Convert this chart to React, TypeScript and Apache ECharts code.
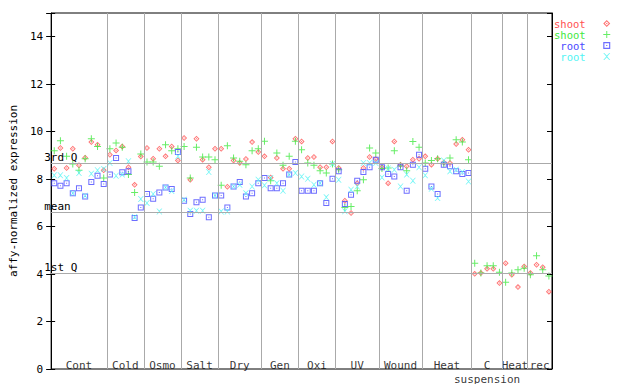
import React, { useEffect, useRef } from "react";
import * as echarts from "echarts";

const groupNames = ["Cont", "Cold", "Osmo", "Salt", "Dry", "Gen", "Oxi", "UV", "Wound", "Heat", "C\nsuspension", "Heat", "rec"];
const groupSizes = [9, 6, 6, 6, 7, 6, 6, 7, 7, 8, 5, 4, 4];

const shootRed = [
  8.44, 9.31, 8.47, 9.28, 8.58, 8.9, 9.56, 9.45, 8.37,
  9.03, 9.21, 9.38, 8.5, 7.76, 8.95,
  9.31, 8.86, 9.28, 8.96, 9.38, 8.79,
  9.73, 7.97, 9.7, 8.82, 8.5, 9.28,
  9.28, 7.68, 8.78, 8.68, 8.85, 9.56, 9.14,
  8.96, 8.07, 8.89, 8.44, 8.44, 9.7,
  9.59, 8.89, 8.93, 8.5, 8.5, 9.59,
  8.47, 7.09, 6.57, 7.83, 8.47, 8.93, 8.85,
  8.5, 7.83, 9.59, 8.61, 8.54, 8.82, 8.86,
  8.96, 8.61, 8.86, 8.7, 8.68, 9.48, 9.66, 9.24,
  4.01, 4.04, 4.22, 4.22, 3.62,
  4.46, 3.97, 3.45, 4.32,
  4.04, 4.39, 4.29, 3.26,
];
const shootGreen = [
  9.2, 9.62, 8.96, 8.64, 8.37, 8.86, 9.7, 9.38, 8.05,
  9.28, 9.52, 9.34, 8.19, 7.44, 9.06,
  8.72, 8.72, 8.54, 9.45, 9.2, 9.28,
  9.38, 8.05, 9.34, 8.93, 8.93, 8.82,
  7.74, 9.41, 8.89, 8.75, 8.61, 9.2, 9.28,
  9.6, 7.93, 9.1, 8.58, 8.96, 9.6,
  9.24, 8.68, 8.58, 8.35, 8.26, 8.64,
  8.4, 6.81, 6.85, 7.51, 7.97, 9.31, 9.1,
  8.45, 8.47, 9.2, 8.55, 8.35, 9.59, 9.34,
  8.68, 8.78, 8.86, 8.65, 8.89, 9.66, 9.56, 8.82,
  4.46, 4.04, 4.35, 4.35, 4.08,
  3.66, 4.04, 4.18, 4.25,
  3.97, 4.77, 4.18, 3.92,
];
const rootBlue = [
  7.83, 7.72, 7.83, 7.41, 7.62, 7.27, 7.88, 8.14, 7.79,
  8.19, 8.89, 8.29, 8.33, 6.36, 6.8,
  7.37, 7.17, 7.44, 7.65, 7.58, 9.14,
  7.09, 6.53, 7.03, 7.13, 6.39, 7.31,
  7.31, 6.81, 7.69, 7.88, 7.27, 7.41, 7.83,
  8.05, 7.62, 7.62, 7.83, 8.19, 8.72,
  7.51, 7.51, 7.51, 7.83, 6.99, 8.02,
  8.33, 6.95, 7.34, 7.93, 8.3, 8.5, 8.82,
  8.5, 8.22, 8.11, 8.5, 7.51, 8.61, 9.03,
  8.44, 7.69, 7.37, 8.61, 8.54, 8.33, 8.22, 8.26,
  null, null, null, null, null,
  null, null, null, null,
  null, null, null, null,
];
const rootCyan = [
  8.16, 8.16, 8.05, 7.41, 8.26, 7.3, 8.23, 8.37, 8.43,
  8.68, 8.14, 8.19, 8.75, 6.4, 7.16,
  6.99, 7.37, 6.64, 7.65, 7.5, 8.96,
  7.13, 6.67, 6.67, 6.67, 8.3, 7.31,
  6.64, 6.64, 7.69, 7.76, 7.41, 7.69, 7.97,
  7.74, 8.05, 7.83, 7.51, 8.19, 8.26,
  8.11, 8.02, 7.76, 7.83, 7.24, 8.64,
  7.97, 6.65, 7.55, 7.69, 8.68, 8.68, 8.68,
  8.07, 8.45, 8.4, 7.69, 8.19, 7.93, 8.5,
  8.16, 7.6, 7.2, 8.78, 8.33, 8.4, 8.3, 7.9,
  null, null, null, null, null,
  null, null, null, null,
  null, null, null, null,
];

const quartileValues = [8.69, 6.61, 4.05];
const quartileLabels = ["3rd Q", "mean", "1st Q"];
const yTicks = [0, 2, 4, 6, 8, 10, 12, 14];

const FONT = "DejaVu Sans Mono";
const RED = "#ff5050";
const GREEN = "#40e840";
const BLUE = "#4848ff";
const CYAN = "#50f4f4";

const SYM_DIAMOND = "path://M3,0L6,3L3,6L0,3Z M3,1.3L1.3,3L3,4.7L4.7,3Z M2.5,2.5H3.5V3.5H2.5Z";
const SYM_PLUS = "path://M0,3H7V4H0Z M3,0H4V7H3Z";
const SYM_SQUARE = "path://M0,0H6V6H0Z M1,1V5H5V1Z M2.5,2.5H3.5V3.5H2.5Z";
const SYM_X = "path://M0,0L1,0L3.5,2.5L6,0L7,0L4,3.5L7,7L6,7L3.5,4.5L1,7L0,7L3,3.5Z";

export default function App() {
  const ref = useRef<HTMLDivElement>(null);
  useEffect(() => {
    if (!ref.current) return;
    const chart = echarts.init(ref.current, null, { renderer: "svg" });
    const total = groupSizes.reduce((a, b) => a + b, 0);
    const bounds: number[] = [];
    const centers: number[] = [];
    let acc = 0;
    groupSizes.forEach((n, i) => {
      centers.push(acc + n / 2);
      acc += n;
      if (i < groupSizes.length - 1) bounds.push(acc);
    });
    const toPts = (arr: (number | null)[]) =>
      arr.map((v, i) => (v == null ? null : [i + 0.5, v])).filter((p) => p !== null);

    const scatter = (name: string, arr: (number | null)[], symbol: string, size: number, color: string) => ({
      type: "scatter",
      name,
      data: toPts(arr),
      symbol,
      symbolSize: size,
      itemStyle: { color },
      z: 3,
      silent: true,
    });

    chart.setOption({
      animation: false,
      backgroundColor: "#fff",
      grid: { left: 44, right: 88, top: 13, bottom: 15, show: true, borderColor: "#000", borderWidth: 1, backgroundColor: "transparent" },
      legend: {
        orient: "vertical",
        left: 549,
        top: 13,
        align: "right",
        itemWidth: 7,
        itemHeight: 7,
        itemGap: 0,
        selectedMode: false,
        formatter: (n: string) => (n.startsWith("shoot") ? "shoot" : "\u00a0root") + "\u00a0\u00a0",
        textStyle: { fontFamily: FONT, fontSize: 10.5, lineHeight: 11, padding: 0 },
        data: [
          { name: "shoot_a", textStyle: { color: RED } },
          { name: "shoot_b", textStyle: { color: GREEN } },
          { name: "root_a", textStyle: { color: BLUE } },
          { name: "root_b", textStyle: { color: CYAN } },
        ],
      },
      xAxis: {
        type: "value",
        min: 0,
        max: total,
        axisLine: { show: false },
        axisTick: { show: false },
        axisLabel: { show: false },
        splitLine: { show: false },
      },
      yAxis: [
        {
          type: "value",
          min: 0,
          max: 15,
          interval: 2,
          position: "left",
          name: "affy-normalized expression",
          nameLocation: "middle",
          nameRotate: 90,
          nameGap: 32,
          nameTextStyle: { fontFamily: FONT, fontSize: 11, color: "#000" },
          axisLine: { show: true, lineStyle: { color: "#000" } },
          axisTick: { show: true, length: 5, lineStyle: { color: "#000" } },
          axisLabel: {
            fontFamily: FONT,
            fontSize: 11,
            color: "#000",
            margin: 8,
            formatter: (v: number) => (yTicks.includes(v) ? String(v) : ""),
          },
          splitLine: { show: false },
        },
        {
          type: "value",
          min: 0,
          max: 15,
          interval: 2,
          position: "left",
          axisLine: { show: false },
          axisTick: { show: true, inside: true, length: 4, lineStyle: { color: "#000" } },
          axisLabel: { show: false },
          splitLine: { show: false },
        },
        {
          type: "value",
          min: 0,
          max: 15,
          interval: 2,
          position: "right",
          axisLine: { show: true, lineStyle: { color: "#000" } },
          axisTick: { show: true, inside: true, length: 5, lineStyle: { color: "#000" } },
          axisLabel: { show: false },
          splitLine: { show: false },
        },
      ],
      series: [
        {
          type: "line",
          name: "refs",
          data: [],
          z: 1,
          silent: true,
          markLine: {
            silent: true,
            symbol: "none",
            animation: false,
            lineStyle: { color: "#aaaaaa", width: 1, type: "solid" },
            data: [
              ...bounds.map((b) => ({ xAxis: b, label: { show: false } })),
              ...quartileValues.map((v, i) => ({
                yAxis: v,
                label: {
                  show: true,
                  position: "insideStartTop",
                  formatter: quartileLabels[i],
                  fontFamily: FONT,
                  fontSize: 11,
                  color: "#000",
                  distance: [-7, 0],
                },
              })),
            ],
          },
        },
        scatter("shoot_a", shootRed, SYM_DIAMOND, 6, RED),
        scatter("shoot_b", shootGreen, SYM_PLUS, 7, GREEN),
        scatter("root_a", rootBlue, SYM_SQUARE, 6, BLUE),
        scatter("root_b", rootCyan, SYM_X, 6, CYAN),
        {
          type: "scatter",
          name: "groups",
          data: centers.map((c) => [c, 0]),
          symbolSize: 1,
          itemStyle: { color: "transparent" },
          silent: true,
          z: 4,
          label: {
            show: true,
            position: "inside",
            align: "center",
            verticalAlign: "top",
            offset: [0, -11],
            lineHeight: 14,
            fontFamily: FONT,
            fontSize: 11,
            color: "#000",
            formatter: (p: any) => groupNames[p.dataIndex],
          },
        },
      ],
    });
    return () => chart.dispose();
  }, []);
  return <div ref={ref} style={{ width: 640, height: 384, position: "absolute", left: 0, top: 0 }} />;
}
